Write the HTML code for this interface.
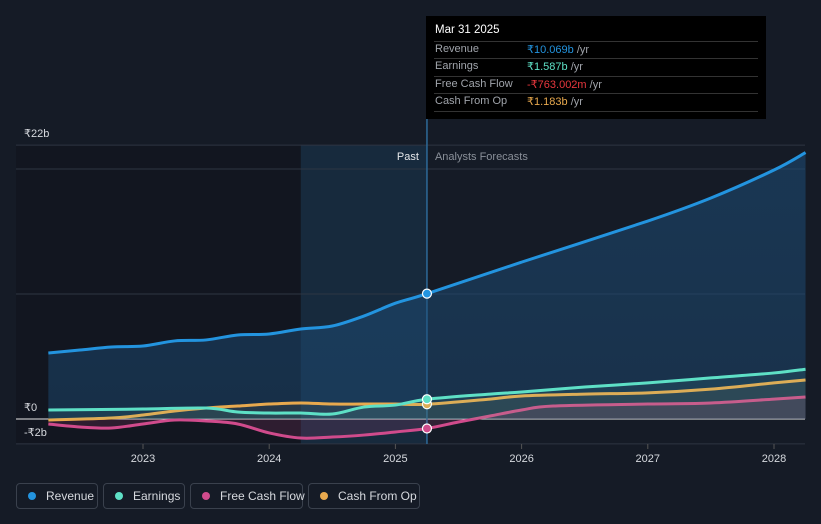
<!DOCTYPE html>
<html><head><meta charset="utf-8"><style>
body{margin:0;background:#151b26;font-family:"Liberation Sans",sans-serif;}
svg{display:block}
.leg{position:absolute;top:483px;height:26px;border:1px solid #3a414d;border-radius:4px;color:#d6d9de;font-size:12px;display:flex;align-items:center;box-sizing:border-box;padding:0 8px 0 11px;white-space:nowrap}
.leg i{width:8px;height:8px;min-width:8px;border-radius:50%;display:inline-block;margin-right:10px;flex-shrink:0}
.tl{position:absolute;left:9px;font-size:11px;color:#a0a4ab}
.tv{position:absolute;left:101px;font-size:11px;color:#a0a4ab}
.sep{position:absolute;left:8px;right:8px;border-top:1px solid #333}
</style></head><body>
<div style="position:relative;width:821px;height:524px;overflow:hidden">
<svg id="c" width="821" height="524"></svg>
<div style="position:absolute;left:426px;top:16px;width:340px;height:103px;background:#000">
<div style="position:absolute;left:9px;top:8px;color:#fff;font-size:11.5px">Mar 31 2025</div>
<div class="sep" style="top:25px"></div><div class="sep" style="top:42px"></div><div class="sep" style="top:60px"></div><div class="sep" style="top:77px"></div><div class="sep" style="top:95px"></div>
<div class="tl" style="top:27px">Revenue</div>
<div class="tl" style="top:44px">Earnings</div>
<div class="tl" style="top:62px">Free Cash Flow</div>
<div class="tl" style="top:79px">Cash From Op</div>
<div class="tv" style="top:27px"><span style="color:#2394df">₹10.069b</span> /yr</div>
<div class="tv" style="top:44px"><span style="color:#5ee0c6">₹1.587b</span> /yr</div>
<div class="tv" style="top:62px"><span style="color:#e8373d">-₹763.002m</span> /yr</div>
<div class="tv" style="top:79px"><span style="color:#e8a94e">₹1.183b</span> /yr</div>
</div>
<div class="leg" style="left:16px;width:82px"><i style="background:#2394df"></i>Revenue</div>
<div class="leg" style="left:103px;width:82px"><i style="background:#5ee0c6"></i>Earnings</div>
<div class="leg" style="left:190px;width:113px"><i style="background:#d04b8c"></i>Free Cash Flow</div>
<div class="leg" style="left:308px;width:112px"><i style="background:#e8a94e"></i>Cash From Op</div>
</div>
<script>
const revX=[2022.25,2022.5,2022.75,2023,2023.25,2023.5,2023.75,2024,2024.25,2024.5,2024.75,2025,2025.25,2026,2027,2027.5,2028,2028.25];
const revV=[5.3,5.54,5.78,5.86,6.27,6.35,6.75,6.83,7.23,7.47,8.27,9.3,10.069,12.6,15.9,17.75,20.0,21.4];
const earnX=[2022.25,2023,2023.5,2023.75,2024,2024.25,2024.5,2024.75,2025,2025.25,2025.75,2026,2026.5,2027,2027.5,2028,2028.25];
const earnV=[0.72,0.8,0.88,0.56,0.48,0.48,0.4,0.96,1.12,1.587,2.0,2.17,2.57,2.9,3.3,3.7,4.0];
const fcfX=[2022.25,2022.5,2022.75,2023,2023.25,2023.5,2023.75,2024,2024.25,2024.5,2024.75,2025,2025.25,2025.5,2025.75,2026,2026.25,2027,2027.5,2028,2028.25];
const fcfV=[-0.4,-0.64,-0.72,-0.4,-0.08,-0.16,-0.4,-1.12,-1.53,-1.45,-1.29,-1.04,-0.763,-0.24,0.24,0.72,1.04,1.2,1.29,1.6,1.77];
const cfoX=[2022.25,2022.75,2023,2023.25,2023.5,2023.75,2024,2024.25,2024.5,2024.75,2025,2025.25,2025.75,2026,2026.5,2027,2027.5,2028,2028.25];
const cfoV=[-0.08,0.08,0.32,0.64,0.88,1.04,1.2,1.29,1.2,1.2,1.2,1.183,1.6,1.85,2.0,2.1,2.4,2.9,3.13];
const yTicks=[22,0,-2];const yLabels=["₹22b","₹0","-₹2b"];
const xTicks=[2023,2024,2025,2026,2027,2028];
const NOW=2025.25,PASTSTART=2024.25;
const X=t=>143+(t-2023)*126.2, Y=v=>419-v*12.45;
const s=document.getElementById('c');const NS='http://www.w3.org/2000/svg';
function el(tag,a,name){const e=document.createElementNS(NS,tag);for(const k in a)e.setAttribute(k,a[k]);


s.appendChild(e);return e;}
s.innerHTML='<defs><linearGradient id="g" x1="0" y1="0" x2="0" y2="1"><stop offset="0" stop-color="#1d4d78" stop-opacity=".55"/><stop offset="1" stop-color="#1d4d78" stop-opacity=".45"/></linearGradient></defs>';
el('rect',{x:X(PASTSTART),y:145,width:X(NOW)-X(PASTSTART),height:299,fill:'#1a3650',opacity:.55},'past-highlight');
el('rect',{x:16,y:145,width:X(PASTSTART)-16,height:299,fill:'#10141c',opacity:.6},'past-shade');
yTicks.forEach((v,i)=>{el('line',{x1:16,x2:805,y1:Y(v),y2:Y(v),stroke:v==0?'#e8e8e8':'#2e3542','stroke-width':1},'gridline');
const t=el('text',{x:24,y:Y(v)-8,fill:'#d6d9de','font-size':11},'y-tick-label');t.textContent=yLabels[i];});
el('line',{x1:16,x2:805,y1:169,y2:169,stroke:'#2e3542'},'gridline');
el('line',{x1:16,x2:805,y1:294,y2:294,stroke:'#2e3542'},'gridline');
el('line',{x1:X(NOW),x2:X(NOW),y1:16,y2:444,stroke:'#2d6a98','stroke-width':1.5},'now-line');
let t=el('text',{x:X(NOW)-8,y:160,fill:'#e5e7ea','font-size':11,'text-anchor':'end'},'past-label');t.textContent='Past';
t=el('text',{x:X(NOW)+8,y:160,fill:'#8a9099','font-size':11},'forecast-label');t.textContent='Analysts Forecasts';
xTicks.forEach(v=>{el('line',{x1:X(v),x2:X(v),y1:444,y2:449,stroke:'#555'},'x-tick');
const t=el('text',{x:X(v),y:462,fill:'#d6d9de','font-size':11,'text-anchor':'middle'},'x-tick-label');t.textContent=v;});
function path(xs,vs){const p=xs.map((x,i)=>[X(x),Y(vs[i])]);let d='M'+p[0];
for(let i=0;i<p.length-1;i++){const p0=p[i-1]||p[i],p1=p[i],p2=p[i+1],p3=p[i+2]||p2;
d+=' C'+(p1[0]+(p2[0]-p0[0])/6)+','+(p1[1]+(p2[1]-p0[1])/6)+' '+(p2[0]-(p3[0]-p1[0])/6)+','+(p2[1]-(p3[1]-p1[1])/6)+' '+p2;}return d;}
function series(xs,vs,col,fill,op,name){const d=path(xs,vs);
el('path',{d:d+` L${X(xs[xs.length-1])},${Y(0)} L${X(xs[0])},${Y(0)}Z`,fill:fill,opacity:op},name+'-area');
el('path',{d:d,fill:'none',stroke:col,'stroke-width':3},name+'-line');
const i=xs.indexOf(NOW);el('circle',{cx:X(NOW),cy:Y(vs[i]),r:4.5,fill:col,stroke:'#fff','stroke-width':1.2},name+'-point');}
series(revX,revV,'#2394df','url(#g)',1,'revenue');
series(fcfX,fcfV,'#d04b8c','#d04b8c',.15,'fcf');
series(cfoX,cfoV,'#e8a94e','#e8a94e',.08,'cfo');
series(earnX,earnV,'#5ee0c6','#5ee0c6',.08,'earnings');
</script></body></html>
